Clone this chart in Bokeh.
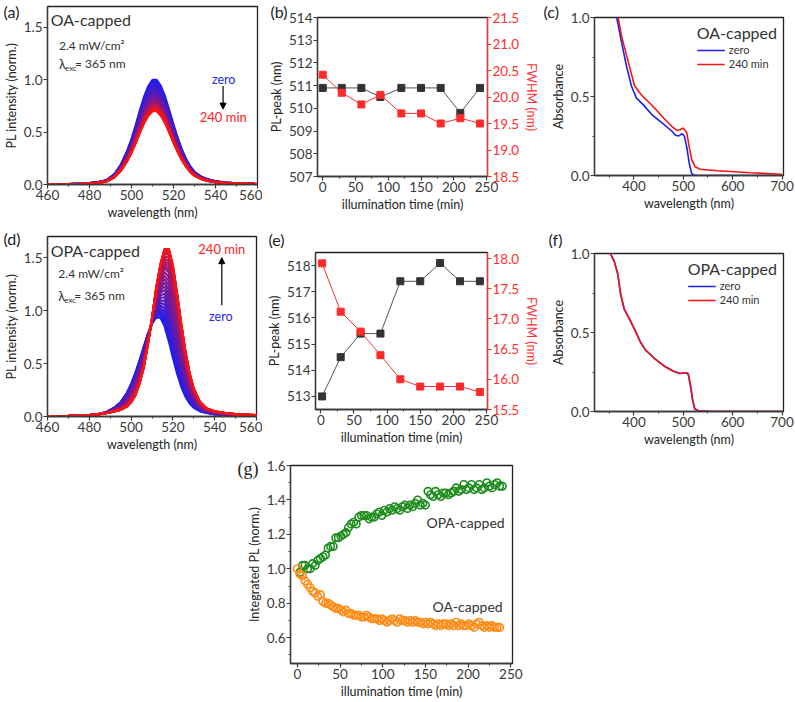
import numpy as np
from bokeh.plotting import figure
from bokeh.layouts import row, column
from bokeh.models import (Range1d, LinearAxis, Label, Arrow, NormalHead, Legend, LegendItem,
                          FixedTicker, PrintfTickFormatter, Spacer)
from bokeh.embed import file_html
from bokeh.resources import INLINE

FONT = "Lato"
TXT = "#333333"
RED = "#ff3030"

# ---------------- data ----------------
# (a)/(d) PL spectra
wl = [460, 470, 476, 480, 484, 488, 492, 495, 498, 500, 502, 504, 506, 508, 510, 512, 514,
      516, 518, 520, 522, 524, 526, 528, 530, 533, 536, 540, 545, 550, 560]
oa_pl_zero = [0.002, 0.004, 0.008, 0.013, 0.022, 0.040, 0.100, 0.190, 0.320, 0.430, 0.560, 0.700,
              0.830, 0.930, 0.990, 0.990, 0.930, 0.830, 0.700, 0.565, 0.440, 0.330, 0.240, 0.170,
              0.120, 0.076, 0.051, 0.030, 0.018, 0.011, 0.004]
oa_pl_peak = [1.00, 0.98, 0.965, 0.95, 0.935, 0.92, 0.905, 0.89, 0.875, 0.86, 0.85, 0.84, 0.83,
              0.82, 0.81, 0.80, 0.79, 0.785, 0.78, 0.775, 0.77, 0.765, 0.76, 0.755, 0.75, 0.745,
              0.74, 0.735, 0.73, 0.725, 0.72, 0.715, 0.71, 0.705, 0.70]
opa_pl_zero = [0.003, 0.005, 0.009, 0.013, 0.022, 0.040, 0.085, 0.136, 0.225, 0.309, 0.412, 0.531,
               0.658, 0.779, 0.877, 0.933, 0.929, 0.846, 0.705, 0.545, 0.398, 0.275, 0.183, 0.120,
               0.080, 0.048, 0.033, 0.020, 0.014, 0.009, 0.004]
opa_pl_240 = [0.004, 0.005, 0.008, 0.012, 0.020, 0.032, 0.048, 0.064, 0.094, 0.136, 0.200, 0.310,
              0.460, 0.680, 0.925, 1.210, 1.430, 1.580, 1.580, 1.420, 1.155, 0.870, 0.610, 0.405,
              0.260, 0.136, 0.077, 0.048, 0.032, 0.022, 0.012]
opa_pl_peak = [0.94, 0.97, 1.00, 1.03, 1.06, 1.09, 1.12, 1.15, 1.18, 1.21, 1.24, 1.27, 1.30, 1.33,
               1.36, 1.39, 1.42, 1.44, 1.46, 1.48, 1.50, 1.52, 1.54, 1.55, 1.56, 1.57, 1.58, 1.59,
               1.60, 1.60]

# (b)/(e) peak position and FWHM
time_b = [0, 29, 59, 88, 120, 150, 180, 210, 240]
oa_peak_nm = [510.9, 510.9, 510.9, 510.5, 510.9, 510.9, 510.9, 509.8, 510.9]
oa_fwhm = [20.42, 20.08, 19.86, 20.04, 19.69, 19.69, 19.50, 19.60, 19.50]
time_e = [2, 30, 60, 90, 120, 150, 180, 210, 240]
opa_peak_nm = [513.0, 514.5, 515.4, 515.4, 517.4, 517.4, 518.1, 517.4, 517.4]
opa_fwhm = [17.92, 17.12, 16.79, 16.40, 16.00, 15.88, 15.88, 15.88, 15.79]

# (c)/(f) absorbance
abs_oa_wl_zero = [363, 375, 385, 395, 405, 418, 438, 458, 477, 484, 491, 497, 502, 507, 512, 517,
                  521, 530, 600, 700]
abs_oa_zero = [1.03, 0.84, 0.69, 0.565, 0.49, 0.45, 0.38, 0.33, 0.28, 0.255, 0.25, 0.265, 0.25,
               0.18, 0.076, 0.013, 0.003, 0.0, 0.0, 0.0]
abs_oa_wl_240 = [366, 375, 385, 395, 401, 410, 418, 438, 458, 477, 487, 493, 500, 507, 512, 517,
                 524, 534, 570, 636, 700]
abs_oa_240 = [1.03, 0.88, 0.76, 0.64, 0.57, 0.53, 0.50, 0.44, 0.37, 0.31, 0.285, 0.29, 0.30, 0.27,
              0.18, 0.10, 0.055, 0.04, 0.03, 0.017, 0.008]
abs_opa_wl = [349, 360, 367, 373, 380, 393, 403, 413, 423, 440, 460, 480, 493, 503, 508, 510, 515,
              519, 523, 530, 550, 600, 700]
abs_opa_zero = [1.02, 0.95, 0.87, 0.74, 0.65, 0.57, 0.51, 0.44, 0.39, 0.34, 0.29, 0.255, 0.24,
                0.245, 0.24, 0.235, 0.15, 0.068, 0.015, 0.004, 0.0, 0.0, 0.0]
abs_opa_240 = [1.02, 0.95, 0.875, 0.745, 0.65, 0.575, 0.505, 0.44, 0.39, 0.34, 0.29, 0.255, 0.24,
               0.245, 0.245, 0.24, 0.16, 0.075, 0.02, 0.005, 0.001, 0.0, 0.0]

# (g) integrated PL
oa_t = [0, 3, 6, 9, 12, 15, 18, 21, 24, 27, 30, 33, 36, 39, 42, 45, 48, 51, 54, 57, 60, 63, 66,
        69, 72, 75, 78, 81, 84, 87, 90, 93, 96, 99, 102, 105, 108, 111, 114, 117, 120, 123, 126,
        129, 132, 135, 138, 141, 144, 147, 150, 153, 156, 159, 162, 165, 168, 171, 174, 177, 180,
        183, 186, 189, 192, 195, 198, 201, 204, 207, 210, 213, 216, 219, 222, 225, 228, 231, 234, 237]
oa_int = [1.00, 0.97, 0.96, 0.93, 0.91, 0.89, 0.87, 0.86, 0.84, 0.85,
          0.81, 0.80, 0.80, 0.79, 0.78, 0.77, 0.77, 0.76, 0.75, 0.76,
          0.74, 0.74, 0.73, 0.73, 0.73, 0.72, 0.72, 0.73, 0.72, 0.71,
          0.71, 0.71, 0.70, 0.71, 0.70, 0.69, 0.70, 0.71, 0.70, 0.69,
          0.71, 0.70, 0.70, 0.69, 0.70, 0.69, 0.70, 0.69, 0.69, 0.68,
          0.69, 0.68, 0.69, 0.68, 0.67, 0.68, 0.67, 0.68, 0.68, 0.67,
          0.68, 0.67, 0.69, 0.67, 0.68, 0.67, 0.67, 0.68, 0.67, 0.66,
          0.68, 0.69, 0.67, 0.66, 0.67, 0.66, 0.67, 0.66, 0.66, 0.66]
opa_t = [3, 6, 9, 12, 15, 18, 21, 24, 27, 30, 33, 36, 39, 42, 45, 48, 51, 54, 57, 60, 63, 66, 69,
         72, 75, 78, 81, 84, 87, 90, 93, 96, 99, 102, 105, 108, 111, 114, 117, 120, 123, 126, 129,
         132, 135, 138, 141, 144, 147, 150, 153, 156, 159, 162, 165, 168, 171, 174, 177, 180, 183,
         186, 189, 192, 195, 198, 201, 204, 207, 210, 213, 216, 219, 222, 225, 228, 231, 234, 237, 240]
opa_int = [0.98, 1.02, 1.02, 1.00, 1.00, 1.03, 1.02, 1.05, 1.06, 1.07,
           1.08, 1.12, 1.13, 1.13, 1.18, 1.18, 1.19, 1.20, 1.21, 1.24,
           1.26, 1.27, 1.26, 1.30, 1.31, 1.31, 1.31, 1.29, 1.30, 1.30,
           1.32, 1.33, 1.31, 1.34, 1.33, 1.35, 1.34, 1.36, 1.35, 1.34,
           1.36, 1.37, 1.35, 1.37, 1.36, 1.38, 1.40, 1.37, 1.38, 1.37,
           1.45, 1.43, 1.42, 1.45, 1.43, 1.42, 1.44, 1.44, 1.43, 1.44,
           1.45, 1.47, 1.45, 1.46, 1.49, 1.46, 1.47, 1.49, 1.46, 1.47,
           1.49, 1.46, 1.47, 1.50, 1.48, 1.47, 1.49, 1.50, 1.48, 1.48]


# ---------------- helpers ----------------
def base_fig(w, h, xr, yr, bl, br, bt, bb):
    p = figure(width=w, height=h, x_range=Range1d(*xr), y_range=Range1d(*yr),
               output_backend="svg", toolbar_location=None,
               min_border_left=bl, min_border_right=br, min_border_top=bt, min_border_bottom=bb)
    p.grid.visible = False
    p.outline_line_color = "#222222"
    p.outline_line_width = 1.3
    p.background_fill_color = "white"
    p.border_fill_color = "white"
    return p


def style_axis(ax, label, ticks, minor, fmt, color="#3a3a3a", lab_color="#222222"):
    ax.axis_label = label
    ax.ticker = FixedTicker(ticks=ticks, minor_ticks=minor)
    ax.formatter = PrintfTickFormatter(format=fmt)
    ax.axis_label_text_font = FONT
    ax.axis_label_text_font_size = "12.5px"
    ax.axis_label_text_font_style = "normal"
    ax.axis_label_text_color = lab_color
    ax.major_label_text_font = FONT
    ax.major_label_text_font_size = "13.5px"
    ax.major_label_text_color = color
    ax.axis_line_color = color
    ax.axis_line_width = 1.3
    ax.major_tick_line_color = color
    ax.major_tick_line_width = 1.2
    ax.major_tick_out = 4
    ax.major_tick_in = 0
    ax.minor_tick_line_color = color
    ax.minor_tick_out = 2
    ax.minor_tick_in = 0
    ax.major_label_standoff = 1
    ax.axis_label_standoff = 2


def txt(p, x, y, text, size, color=TXT, align="left", baseline="middle", xo=0, yo=0, font=FONT):
    p.add_layout(Label(x=x, y=y, text=text, text_font=font, text_font_size=size,
                       text_color=color, text_align=align, text_baseline=baseline,
                       x_offset=xo, y_offset=yo))


def letter(p, text, offset, standoff, size="16px", font=FONT):
    # panel letter: the plot title, shifted left of the frame
    t = p.title
    t.text = text
    t.align = "left"
    t.offset = offset
    t.standoff = standoff
    t.vertical_align = "bottom"
    t.text_font = font
    t.text_font_size = size
    t.text_font_style = "normal"
    t.text_color = "#222222"


def grad(n):
    cols = []
    for k in range(n):
        f = k / (n - 1)
        r = int(30 + 222 * f)
        g = int(30 - 10 * f)
        b = int(240 - 220 * f)
        cols.append("#%02x%02x%02x" % (r, g, b))
    return cols


WL_T = [460, 480, 500, 520, 540, 560]
WL_M = [470, 490, 510, 530, 550]
TM_T = [0, 50, 100, 150, 200, 250]
TM_M = [25, 75, 125, 175, 225]

# ---------------- (a) ----------------
pa = base_fig(262, 222, (460, 560), (0, 1.7), 46, 5, 6, 38)
style_axis(pa.xaxis[0], "wavelength (nm)", WL_T, WL_M, "%d")
style_axis(pa.yaxis[0], "PL intensity (norm.)", [0, 0.5, 1.0, 1.5], [], "%.1f")
n = len(oa_pl_peak)
zero_a = np.array(oa_pl_zero)
pa.multi_line(xs=[wl] * n, ys=[list(zero_a * pk / max(oa_pl_zero)) for pk in oa_pl_peak],
              line_color=grad(n), line_width=2.2)
letter(pa, "(a)", -44, -28)
txt(pa, 461.5, 1.58, "OA-capped", "16px")
txt(pa, 465.5, 1.33, "2.4 mW/cm²", "12px")
txt(pa, 465.5, 1.155, "λ", "13px")
txt(pa, 465.5, 1.155, "exc", "8px", xo=6, yo=-4)
txt(pa, 465.5, 1.155, "= 365 nm", "12px", xo=16)
txt(pa, 543.9, 1.0, "zero", "12.5px", color="#2828e8", align="center")
txt(pa, 543.7, 0.64, "240 min", "13px", color="#ff2020", align="center")
pa.add_layout(Arrow(end=NormalHead(size=6, fill_color="black", line_color="black"),
                    x_start=543.6, y_start=0.94, x_end=543.6, y_end=0.72,
                    line_color="black", line_width=1.2))

# ---------------- (b) ----------------
pb = base_fig(280, 222, (-8, 251.5), (507, 514), 55, 51, 17, 46)
pb.extra_y_ranges = {"fwhm": Range1d(18.5, 21.5)}
style_axis(pb.xaxis[0], "illumination time (min)", TM_T, TM_M, "%d")
style_axis(pb.yaxis[0], "PL-peak (nm)", list(range(507, 515)), [], "%d")
axb = LinearAxis(y_range_name="fwhm")
style_axis(axb, "FWHM (nm)", [18.5, 19.0, 19.5, 20.0, 20.5, 21.0, 21.5], [], "%.1f",
           color=RED, lab_color=RED)
pb.add_layout(axb, "right")
pb.line(time_b, oa_peak_nm, line_color="#555555", line_width=1)
pb.scatter(time_b, oa_peak_nm, marker="square", size=7, color="#333333")
pb.line(time_b, oa_fwhm, line_color=RED, line_width=1, y_range_name="fwhm")
pb.scatter(time_b, oa_fwhm, marker="square", size=7, color="#ff2a2a", y_range_name="fwhm")
letter(pb, "(b)", -47, -6)

# ---------------- (c) ----------------
pc = base_fig(252, 222, (320, 703), (0, 1.0), 52, 11, 17, 47)
style_axis(pc.xaxis[0], "wavelength (nm)", [400, 500, 600, 700], [350, 450, 550, 650], "%d")
style_axis(pc.yaxis[0], "Absorbance", [0, 0.5, 1.0], [0.25, 0.75], "%.1f")
rc1 = pc.line(abs_oa_wl_zero, abs_oa_zero, line_color="#2020e0", line_width=1.6)
rc2 = pc.line(abs_oa_wl_240, abs_oa_240, line_color="#f01616", line_width=1.6)


def add_legend(p, r1, r2, title):
    lg = Legend(items=[LegendItem(label="zero", renderers=[r1]),
                       LegendItem(label="240 min", renderers=[r2])],
                title=title, location="top_right")
    lg.title_text_font = FONT
    lg.title_text_font_size = "16px"
    lg.title_text_font_style = "normal"
    lg.title_text_color = TXT
    lg.title_standoff = 1
    lg.label_text_font = FONT
    lg.label_text_font_size = "11px"
    lg.label_text_color = TXT
    lg.label_height = 12
    lg.glyph_height = 12
    lg.glyph_width = 28
    lg.label_standoff = 4
    lg.spacing = 1
    lg.padding = 2
    lg.margin = 4
    lg.border_line_alpha = 0
    lg.background_fill_alpha = 0
    p.add_layout(lg)


add_legend(pc, rc1, rc2, "OA-capped")
letter(pc, "(c)", -51, -6)

# ---------------- (d) ----------------
pd_ = base_fig(262, 232, (460, 560), (0, 1.7), 46, 6, 14, 38)
style_axis(pd_.xaxis[0], "wavelength (nm)", WL_T, WL_M, "%d")
style_axis(pd_.yaxis[0], "PL intensity (norm.)", [0, 0.5, 1.0, 1.5], [], "%.1f")
z = np.array(opa_pl_zero)
f = np.array(opa_pl_240)
p0, p1 = max(opa_pl_zero), max(opa_pl_240)
ys_d = []
for pk in opa_pl_peak:
    w = min(max((pk - p0) / (p1 - p0), 0.0), 1.0)
    ys_d.append(list((1 - w) * z + w * f))
m = len(opa_pl_peak)
pd_.multi_line(xs=[wl] * m, ys=ys_d, line_color=grad(m), line_width=2.2)
letter(pd_, "(d)", -44, -22)
txt(pd_, 461.5, 1.57, "OPA-capped", "16px")
txt(pd_, 465.2, 1.35, "2.4 mW/cm²", "12px")
txt(pd_, 465.2, 1.14, "λ", "13px")
txt(pd_, 465.2, 1.14, "exc", "8px", xo=6, yo=-4)
txt(pd_, 465.2, 1.14, "= 365 nm", "12px", xo=16)
txt(pd_, 543.4, 1.58, "240 min", "13px", color="#ff2020", align="center")
txt(pd_, 542.9, 0.94, "zero", "12.5px", color="#2828e8", align="center")
pd_.add_layout(Arrow(end=NormalHead(size=6, fill_color="black", line_color="black"),
                     x_start=543.4, y_start=1.05, x_end=543.4, y_end=1.50,
                     line_color="black", line_width=1.2))

# ---------------- (e) ----------------
pe = base_fig(280, 232, (-8, 251.5), (512.5, 518.5), 53, 51, 30, 45)
pe.extra_y_ranges = {"fwhm": Range1d(15.5, 18.1)}
style_axis(pe.xaxis[0], "illumination time (min)", TM_T, TM_M, "%d")
style_axis(pe.yaxis[0], "PL-peak (nm)", list(range(513, 519)), [], "%d")
axe = LinearAxis(y_range_name="fwhm")
style_axis(axe, "FWHM (nm)", [15.5, 16.0, 16.5, 17.0, 17.5, 18.0], [], "%.1f",
           color=RED, lab_color=RED)
pe.add_layout(axe, "right")
pe.line(time_e, opa_peak_nm, line_color="#555555", line_width=1)
pe.scatter(time_e, opa_peak_nm, marker="square", size=7, color="#333333")
pe.line(time_e, opa_fwhm, line_color=RED, line_width=1, y_range_name="fwhm")
pe.scatter(time_e, opa_fwhm, marker="square", size=7, color="#ff2a2a", y_range_name="fwhm")
letter(pe, "(e)", -47, 8)

# ---------------- (f) ----------------
pf = base_fig(252, 232, (320, 703), (0, 1.0), 52, 11, 31, 43)
style_axis(pf.xaxis[0], "wavelength (nm)", [400, 500, 600, 700], [350, 450, 550, 650], "%d")
style_axis(pf.yaxis[0], "Absorbance", [0, 0.5, 1.0], [0.25, 0.75], "%.1f")
rf1 = pf.line(abs_opa_wl, abs_opa_zero, line_color="#2020e0", line_width=1.6)
rf2 = pf.line(abs_opa_wl, abs_opa_240, line_color="#f01616", line_width=1.6)
add_legend(pf, rf1, rf2, "OPA-capped")
letter(pf, "(f)", -46, 9)

# ---------------- (g) ----------------
pg = base_fig(340, 247, (-8, 252), (0.45, 1.6), 100, 18, 11, 38)
style_axis(pg.xaxis[0], "illumination time (min)", TM_T, TM_M, "%d")
style_axis(pg.yaxis[0], "Integrated PL (norm.)", [0.6, 0.8, 1.0, 1.2, 1.4, 1.6],
           [0.5, 0.7, 0.9, 1.1, 1.3, 1.5], "%.1f")
pg.scatter(opa_t, opa_int, marker="circle", size=7.5, fill_alpha=0,
           line_color="#1d8c1d", line_width=1.6)
pg.scatter(oa_t, oa_int, marker="circle", size=7.5, fill_alpha=0,
           line_color="#ff8a14", line_width=1.6)
txt(pg, 197, 1.268, "OPA-capped", "14px", align="center")
txt(pg, 199.4, 0.782, "OA-capped", "14px", align="center")
letter(pg, "(g)", -53, -26, size="18px", font="Liberation Serif")

# each figure wrapped in its own column so that frames are not aligned across a row
layout = column(row(column(pa), column(pb), column(pc)),
                row(column(pd_), column(pe), column(pf)),
                row(Spacer(width=190, height=247), column(pg)))
open("out.html", "w").write(file_html(layout, INLINE))
